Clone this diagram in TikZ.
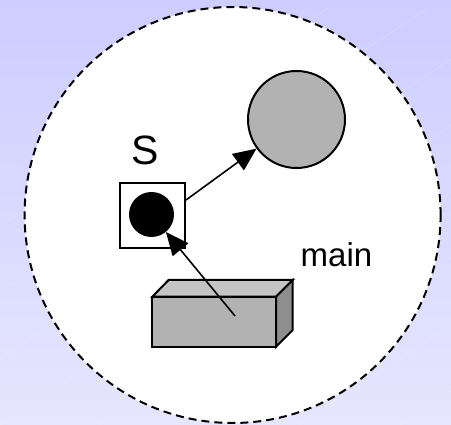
\documentclass[tikz,border=0pt]{standalone}
\usepackage{fontspec}
\setmainfont{Liberation Sans}
\usetikzlibrary{arrows.meta}
\definecolor{bgA}{HTML}{CDCDFF}
\definecolor{bgB}{HTML}{E6E6FF}
\definecolor{grayfill}{HTML}{B2B2B2}
\definecolor{graytop}{HTML}{C4C4C4}
\definecolor{grayside}{HTML}{8E8E8E}
\tikzset{
  outline/.style={draw=black, line width=2pt, line join=miter},
  conn/.style={draw=black, line width=1.6pt, -{Triangle[length=23pt,width=20pt]}},
  lbl/.style={font=\fontsize{41}{41}\selectfont, inner sep=0pt},
  lblsmall/.style={font=\fontsize{33}{33}\selectfont, inner sep=0pt},
  bgline/.style={draw=white, opacity=0.2, line width=0.5pt}
}
\begin{document}
\begin{tikzpicture}[x=1pt,y=-1pt]
\useasboundingbox (0,0) rectangle (451,425);
% background
\shade[shading angle=135, left color=bgA, right color=bgB, shading=axis] (0,0) rectangle (451,425);
\path[top color=bgA, bottom color=bgB] (0,0) rectangle (451,425);
\shade[left color=bgA, right color=bgB, shading angle=0, opacity=0.5] (0,0) rectangle (451,425);
\foreach \i in {-300,-200,...,600} {
  \draw[bgline] (\i,425) -- (\i+640,0);
}
% main dashed circle
\node[circle, draw=black, fill=white, line width=2pt, dash pattern=on 8pt off 5pt, minimum size=416pt, inner sep=0pt] (main) at (232.6,215) {};
% gray circle
\node[circle, outline, fill=grayfill, minimum size=97pt, inner sep=0pt] (gc) at (296.5,119.5) {};
% S square
\node[rectangle, outline, fill=white, minimum size=65pt, inner sep=0pt] (sq) at (152.5,215.5) {};
\node[circle, fill=black, minimum size=45pt, inner sep=0pt] (bc) at (151.5,214.5) {};
\node[lbl] (S) at (145,150) {S};
\node[lblsmall, anchor=base west] (mainlbl) at (300.5,266.5) {main};
% box
\coordinate (f1) at (152.3,296.7);
\coordinate (f2) at (276,296.7);
\coordinate (f3) at (276,346.7);
\coordinate (f4) at (152.3,346.7);
\coordinate (b1) at (168.6,280);
\coordinate (b2) at (292.7,280);
\coordinate (b3) at (292.7,330);
\path[outline, fill=graytop] (f1) -- (b1) -- (b2) -- (f2) -- cycle;
\path[outline, fill=grayside] (f2) -- (b2) -- (b3) -- (f3) -- cycle;
\path[outline, fill=grayfill] (f1) -- (f2) -- (f3) -- (f4) -- cycle;
\coordinate (boxpt) at (235,316);
% connectors
\draw[conn] (boxpt) -- (bc);
\draw[conn] (sq.east |- 0,200) -- (gc);
\end{tikzpicture}
\end{document}
